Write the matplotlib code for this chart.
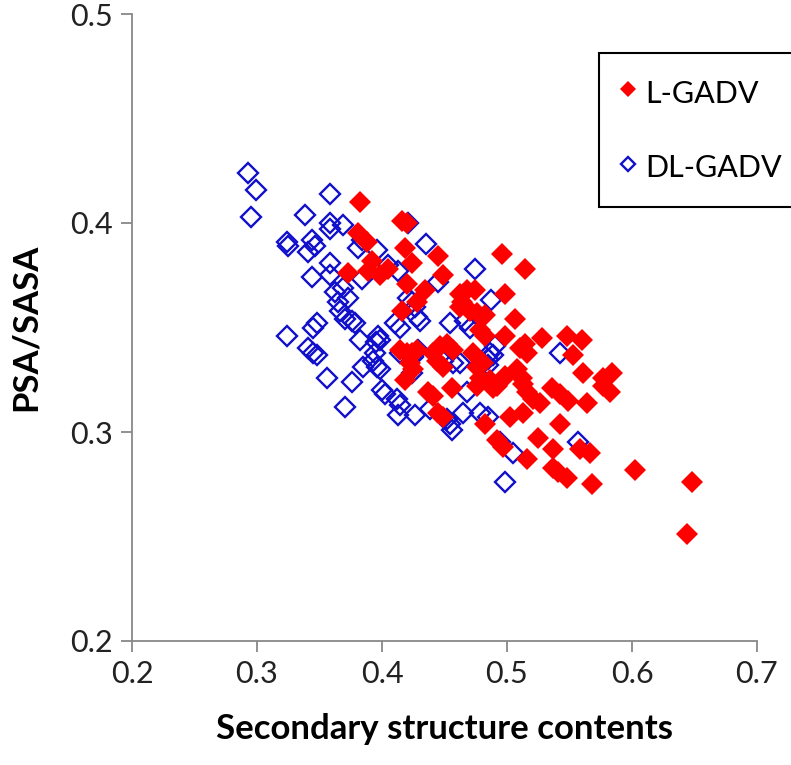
import numpy as np
import matplotlib.pyplot as plt

# L-GADV (filled red diamonds)
l_x = [0.382, 0.416, 0.420, 0.381, 0.388, 0.392, 0.373, 0.389, 0.398, 0.405,
       0.418, 0.424, 0.420, 0.434, 0.445, 0.449, 0.416, 0.462,
       0.428, 0.462, 0.414, 0.420, 0.424, 0.428, 0.422, 0.425, 0.418, 0.441,
       0.446, 0.452, 0.457, 0.444, 0.449, 0.456, 0.437, 0.441, 0.445, 0.449,
       0.496, 0.514, 0.498, 0.468, 0.474, 0.464, 0.470, 0.476, 0.482, 0.506,
       0.478, 0.482, 0.498, 0.528, 0.548, 0.560, 0.510, 0.514, 0.516, 0.553,
       0.561, 0.577, 0.584, 0.508, 0.512, 0.513, 0.473, 0.476, 0.481, 0.478,
       0.498, 0.496, 0.486, 0.492, 0.536,
       0.476, 0.489, 0.516, 0.521, 0.526, 0.542, 0.549, 0.564, 0.577, 0.582,
       0.502, 0.513, 0.482, 0.542, 0.492, 0.497, 0.525, 0.537, 0.558, 0.566,
       0.516, 0.537, 0.541, 0.548, 0.568, 0.602, 0.648, 0.644]
l_y = [0.410, 0.401, 0.400, 0.395, 0.391, 0.382, 0.376, 0.377, 0.375, 0.378,
       0.388, 0.381, 0.371, 0.368, 0.384, 0.375, 0.358, 0.366,
       0.362, 0.360, 0.339, 0.338, 0.338, 0.339, 0.333, 0.330, 0.325, 0.338,
       0.341, 0.342, 0.339, 0.334, 0.331, 0.321, 0.319, 0.317, 0.309, 0.307,
       0.385, 0.378, 0.366, 0.368, 0.368, 0.362, 0.358, 0.357, 0.356, 0.354,
       0.349, 0.346, 0.346, 0.345, 0.346, 0.344, 0.340, 0.342, 0.338, 0.337,
       0.328, 0.326, 0.328, 0.330, 0.326, 0.323, 0.338, 0.331, 0.333, 0.326,
       0.327, 0.325, 0.325, 0.322, 0.321,
       0.322, 0.321, 0.319, 0.316, 0.314, 0.318, 0.315, 0.314, 0.322, 0.319,
       0.307, 0.309, 0.304, 0.304, 0.296, 0.293, 0.297, 0.292, 0.292, 0.290,
       0.287, 0.283, 0.281, 0.278, 0.275, 0.282, 0.276, 0.251]

# DL-GADV (open blue diamonds)
dl_x = [0.293, 0.299, 0.295,
        0.358, 0.338, 0.358, 0.369, 0.358, 0.324, 0.325, 0.344, 0.341, 0.346,
        0.358, 0.344, 0.358, 0.369, 0.362, 0.373, 0.365, 0.366, 0.370, 0.376,
        0.378, 0.348, 0.345, 0.384, 0.381, 0.396, 0.384, 0.405, 0.413, 0.421,
        0.435, 0.445, 0.421, 0.424, 0.426, 0.428, 0.430, 0.454, 0.410, 0.414,
        0.324, 0.341, 0.345, 0.348, 0.382, 0.397, 0.395, 0.398,
        0.385, 0.393, 0.396, 0.398, 0.394, 0.356, 0.376, 0.370, 0.400, 0.402,
        0.412, 0.414, 0.413, 0.414, 0.425, 0.429, 0.424, 0.426, 0.438, 0.452,
        0.454, 0.456, 0.457, 0.449,
        0.474, 0.487, 0.466, 0.470, 0.490, 0.481, 0.485, 0.489, 0.486, 0.485,
        0.462, 0.468, 0.542,
        0.465, 0.478, 0.485, 0.494, 0.505, 0.498, 0.557]
dl_y = [0.424, 0.416, 0.403,
        0.414, 0.404, 0.400, 0.399, 0.397, 0.391, 0.389, 0.392, 0.386, 0.389,
        0.381, 0.374, 0.375, 0.369, 0.367, 0.364, 0.362, 0.358, 0.354, 0.353,
        0.352, 0.352, 0.350, 0.392, 0.388, 0.387, 0.373, 0.380, 0.377, 0.400,
        0.390, 0.372, 0.364, 0.362, 0.360, 0.355, 0.353, 0.352, 0.352, 0.350,
        0.346, 0.340, 0.338, 0.337, 0.344, 0.346, 0.343, 0.344,
        0.331, 0.334, 0.331, 0.330, 0.338, 0.326, 0.324, 0.312, 0.320, 0.318,
        0.316, 0.313, 0.308, 0.338, 0.336, 0.339, 0.328, 0.308, 0.311, 0.306,
        0.304, 0.301, 0.333, 0.334,
        0.378, 0.363, 0.353, 0.350, 0.341, 0.333, 0.335, 0.337, 0.338, 0.332,
        0.333, 0.319, 0.338,
        0.309, 0.309, 0.307, 0.295, 0.290, 0.276, 0.295]

x_ticks = [0.2, 0.3, 0.4, 0.5, 0.6, 0.7]
y_ticks = [0.2, 0.3, 0.4, 0.5]

plt.rcParams['font.family'] = ['Lato', 'DejaVu Sans']

fig = plt.figure(figsize=(7.91, 7.65), dpi=100)
ax = fig.add_axes([132/791, 1-641/765, 625/791, 627/765])

ax.plot(l_x, l_y, 'D', color='#FF0000', markersize=11, markeredgewidth=0,
        label='L-GADV', zorder=3)
ax.plot(dl_x, dl_y, 'D', markerfacecolor='none', markeredgecolor='#1010CC',
        markersize=10, markeredgewidth=1.7, label='DL-GADV', zorder=2)

ax.set_xlim(0.2, 0.7)
ax.set_ylim(0.2, 0.5)
ax.set_xticks(x_ticks)
ax.set_yticks(y_ticks)
ax.set_xticklabels([f'{v:.1f}' for v in x_ticks])
ax.set_yticklabels([f'{v:.1f}' for v in y_ticks])

for s in ['top', 'right']:
    ax.spines[s].set_visible(False)
for s in ['left', 'bottom']:
    ax.spines[s].set_color('#888888')
    ax.spines[s].set_linewidth(1.3)
ax.tick_params(direction='out', length=8, width=1.3, color='#888888',
               labelsize=22, labelcolor='#222222', pad=6)

ax.set_xlabel('Secondary structure contents', fontsize=25, fontweight='bold',
              labelpad=18)
ax.set_ylabel('PSA/SASA', fontsize=25, fontweight='bold', labelpad=20)

leg = ax.legend(loc='upper left', bbox_to_anchor=(599/791, 1-53/765),
                bbox_transform=fig.transFigure, fontsize=22, frameon=True,
                fancybox=False, edgecolor='black', handlelength=0.4,
                handleheight=1.3, handletextpad=0.35, labelspacing=1.35,
                borderpad=0.75, borderaxespad=0, markerscale=0.75)
leg.get_frame().set_linewidth(1.5)
leg.get_frame().set_alpha(1)

plt.savefig('out.png', dpi=100)
